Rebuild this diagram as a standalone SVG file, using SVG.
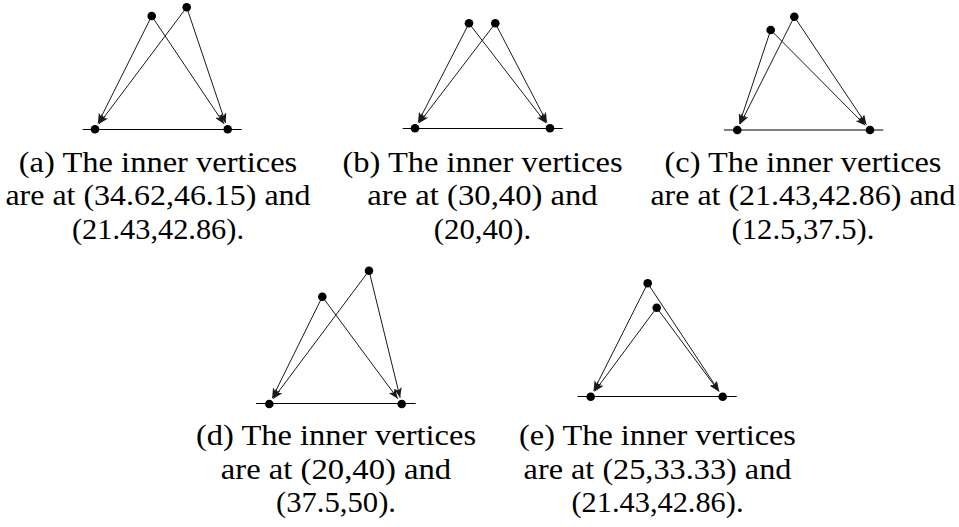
<svg xmlns="http://www.w3.org/2000/svg" width="959" height="527" viewBox="0 0 959 527">
<style>
  .edge{stroke:#1a1a1a;stroke-width:1;fill:none;marker-end:url(#arr)}
  .base{stroke:#000;stroke-width:1.1}
  .v{fill:#000}
  .cap{font-family:"Liberation Serif","Times New Roman",serif;font-size:29px;fill:#000}
</style>
<defs>
  <marker id="arr" markerUnits="userSpaceOnUse" viewBox="0 0 10 8" markerWidth="10" markerHeight="8" refX="10" refY="4" orient="auto">
    <path d="M0,0 L10,4 L0,8 L2.5,4 z" fill="#1a1a1a"/>
  </marker>
</defs>
<g id="connectors">
  <!-- (a) -->
  <line class="base" x1="82.7" y1="129.5" x2="241.7" y2="129.5"/>
  <line class="edge" x1="151.7" y1="16" x2="97.91" y2="123.49"/>
  <line class="edge" x1="151.7" y1="16" x2="224.08" y2="123.9"/>
  <line class="edge" x1="186.7" y1="7.3" x2="98.91" y2="124.1"/>
  <line class="edge" x1="186.7" y1="7.3" x2="225.63" y2="123.14"/>
  <!-- (b) -->
  <line class="base" x1="402.7" y1="128.5" x2="562.7" y2="128.5"/>
  <line class="edge" x1="469" y1="23.3" x2="417.97" y2="122.52"/>
  <line class="edge" x1="469" y1="23.3" x2="546.03" y2="123.15"/>
  <line class="edge" x1="495.3" y1="23.3" x2="418.95" y2="123.14"/>
  <line class="edge" x1="495.3" y1="23.3" x2="547" y2="122.54"/>
  <!-- (c) -->
  <line class="base" x1="724" y1="130" x2="883.3" y2="130"/>
  <line class="edge" x1="770.7" y1="30" x2="739.36" y2="123.83"/>
  <line class="edge" x1="770.7" y1="30" x2="865.42" y2="125.39"/>
  <line class="edge" x1="794.3" y1="16.7" x2="740.22" y2="124.19"/>
  <line class="edge" x1="794.3" y1="16.7" x2="866.39" y2="124.6"/>
  <!-- (d) -->
  <line class="base" x1="256" y1="403.5" x2="415.7" y2="403.5"/>
  <line class="edge" x1="322.3" y1="296.7" x2="272.18" y2="398.17"/>
  <line class="edge" x1="322.3" y1="296.7" x2="397.83" y2="398.78"/>
  <line class="edge" x1="369" y1="270.7" x2="273.19" y2="398.79"/>
  <line class="edge" x1="369" y1="270.7" x2="400.15" y2="397.69"/>
  <!-- (e) -->
  <line class="base" x1="577.5" y1="396.5" x2="736.7" y2="396.5"/>
  <line class="edge" x1="647.7" y1="283.3" x2="593.62" y2="390.89"/>
  <line class="edge" x1="647.7" y1="283.3" x2="719.11" y2="391.28"/>
  <line class="edge" x1="656.7" y1="307.7" x2="594.57" y2="391.48"/>
  <line class="edge" x1="656.7" y1="307.7" x2="718.83" y2="391.48"/>
</g>
<g id="a-nodes">
  <circle id="a-v1" class="v" cx="151.7" cy="16" r="4.3"/>
  <circle id="a-v2" class="v" cx="186.7" cy="7.3" r="4.3"/>
  <circle id="a-v3" class="v" cx="95" cy="129.3" r="4.3"/>
  <circle id="a-v4" class="v" cx="227.7" cy="129.3" r="4.3"/>
</g>
<g id="b-nodes">
  <circle id="b-v1" class="v" cx="469" cy="23.3" r="4.3"/>
  <circle id="b-v2" class="v" cx="495.3" cy="23.3" r="4.3"/>
  <circle id="b-v3" class="v" cx="415" cy="128.3" r="4.3"/>
  <circle id="b-v4" class="v" cx="550" cy="128.3" r="4.3"/>
</g>
<g id="c-nodes">
  <circle id="c-v1" class="v" cx="770.7" cy="30" r="4.3"/>
  <circle id="c-v2" class="v" cx="794.3" cy="16.7" r="4.3"/>
  <circle id="c-v3" class="v" cx="737.3" cy="130" r="4.3"/>
  <circle id="c-v4" class="v" cx="870" cy="130" r="4.3"/>
</g>
<g id="d-nodes">
  <circle id="d-v1" class="v" cx="322.3" cy="296.7" r="4.3"/>
  <circle id="d-v2" class="v" cx="369" cy="270.7" r="4.3"/>
  <circle id="d-v3" class="v" cx="269.3" cy="404" r="4.3"/>
  <circle id="d-v4" class="v" cx="401.7" cy="404" r="4.3"/>
</g>
<g id="e-nodes">
  <circle id="e-v1" class="v" cx="656.7" cy="307.7" r="4.3"/>
  <circle id="e-v2" class="v" cx="647.7" cy="283.3" r="4.3"/>
  <circle id="e-v3" class="v" cx="590.7" cy="396.7" r="4.3"/>
  <circle id="e-v4" class="v" cx="722.7" cy="396.7" r="4.3"/>
</g>
<g id="caption-a" class="cap">
  <text x="18.75" y="172" textLength="278.5" lengthAdjust="spacingAndGlyphs">(a) The inner vertices</text>
  <text x="5.45" y="205" textLength="305.1" lengthAdjust="spacingAndGlyphs">are at (34.62,46.15) and</text>
  <text x="72" y="238.5" textLength="172" lengthAdjust="spacingAndGlyphs">(21.43,42.86).</text>
</g>
<g id="caption-b" class="cap">
  <text x="342.45" y="172" textLength="280.1" lengthAdjust="spacingAndGlyphs">(b) The inner vertices</text>
  <text x="367.3" y="205" textLength="230.4" lengthAdjust="spacingAndGlyphs">are at (30,40) and</text>
  <text x="433.8" y="238.5" textLength="97.4" lengthAdjust="spacingAndGlyphs">(20,40).</text>
</g>
<g id="caption-c" class="cap">
  <text x="664.55" y="172" textLength="276.9" lengthAdjust="spacingAndGlyphs">(c) The inner vertices</text>
  <text x="650.45" y="205" textLength="305.1" lengthAdjust="spacingAndGlyphs">are at (21.43,42.86) and</text>
  <text x="731.6" y="238.5" textLength="142.8" lengthAdjust="spacingAndGlyphs">(12.5,37.5).</text>
</g>
<g id="caption-d" class="cap">
  <text x="195.95" y="445" textLength="280.1" lengthAdjust="spacingAndGlyphs">(d) The inner vertices</text>
  <text x="220.8" y="478.5" textLength="230.4" lengthAdjust="spacingAndGlyphs">are at (20,40) and</text>
  <text x="275.95" y="512" textLength="120.1" lengthAdjust="spacingAndGlyphs">(37.5,50).</text>
</g>
<g id="caption-e" class="cap">
  <text x="519.05" y="445" textLength="276.9" lengthAdjust="spacingAndGlyphs">(e) The inner vertices</text>
  <text x="523.6" y="478.5" textLength="267.8" lengthAdjust="spacingAndGlyphs">are at (25,33.33) and</text>
  <text x="571.5" y="512" textLength="172" lengthAdjust="spacingAndGlyphs">(21.43,42.86).</text>
</g>
</svg>
